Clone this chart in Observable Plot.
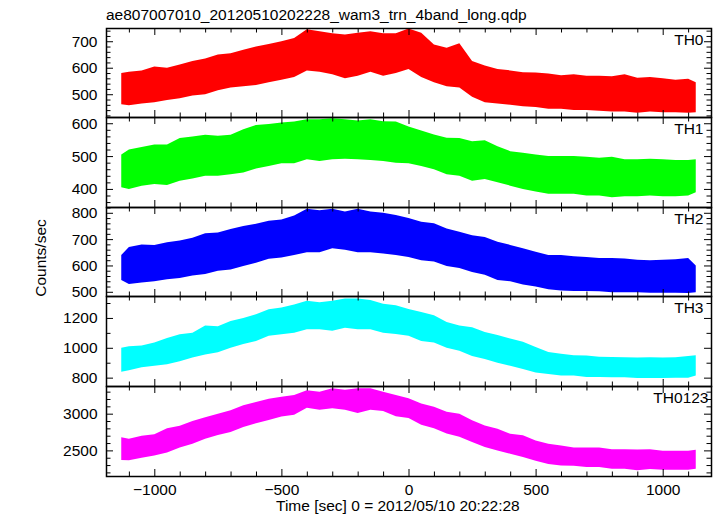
<!DOCTYPE html>
<html>
<head>
<meta charset="utf-8">
<script src="https://cdn.jsdelivr.net/npm/d3@7"></script>
<script src="https://cdn.jsdelivr.net/npm/@observablehq/plot@0.6"></script>
<style>
  body { margin: 0; background: #fff; }
  #chart { position: relative; width: 717px; height: 516px; font-family: "Liberation Sans", Arial, Helvetica, sans-serif; color: #000; overflow: hidden; }
  #chart svg { position: absolute; left: 0; overflow: visible; }
  .lbl { position: absolute; font-size: 15.5px; line-height: 15.5px; white-space: nowrap; }
</style>
</head>
<body>
<div id="chart"></div>
<script>
// ---- data (lower / upper envelope of each light curve) ----
const titleText = "ae807007010_20120510202228_wam3_trn_4band_long.qdp";
const xLabelText = "Time [sec] 0 = 2012/05/10 20:22:28";
const yLabelText = "Counts/sec";
const bandNames = ["TH0", "TH1", "TH2", "TH3", "TH0123"];

const time = [-1130,-1100,-1050,-1000,-950,-900,-850,-800,-750,-700,-650,-600,-550,-500,-450,-400,-350,-300,-250,-200,-150,-100,-50,0,50,100,150,200,250,300,350,400,450,500,550,600,650,700,750,800,850,900,950,1000,1050,1100,1130];

const th0Lo = [462,458,465,470,478,485,495,500,515,525,530,535,545,555,565,590,585,575,560,570,585,570,580,595,565,545,530,525,490,470,465,460,455,452,445,445,440,440,438,435,435,430,435,432,432,430,432];
const th0Hi = [580,585,590,605,600,612,625,635,650,655,668,680,690,700,712,745,738,730,725,732,738,730,730,748,732,688,675,692,625,608,595,590,583,582,578,572,575,570,570,568,575,562,565,560,555,558,545];

const th1Lo = [405,400,410,415,412,425,432,440,440,445,450,462,470,478,478,490,485,490,492,490,488,485,480,478,470,460,445,440,425,430,420,410,400,392,385,385,385,380,380,375,378,378,380,378,378,380,390];
const th1Hi = [505,520,528,535,535,555,560,565,562,565,582,595,598,602,605,612,612,615,612,608,612,606,605,590,578,566,556,555,545,548,530,515,510,505,500,500,500,498,495,498,490,490,492,490,488,488,490];

const th2Lo = [545,530,535,540,548,552,562,568,580,585,598,610,625,630,640,650,650,665,660,650,650,645,640,632,620,615,598,590,575,565,545,540,528,520,510,505,503,503,502,498,498,498,496,496,496,495,498];
const th2Hi = [640,670,680,678,688,695,705,722,725,738,750,758,770,775,790,815,810,815,805,815,805,800,792,780,766,760,740,728,715,708,690,678,665,652,640,640,635,632,628,628,626,622,620,622,624,628,600];

const th3Lo = [840,850,870,880,890,910,935,955,970,1000,1025,1045,1080,1090,1100,1125,1125,1115,1135,1125,1125,1100,1092,1080,1045,1035,1000,980,945,925,900,880,858,835,825,815,815,805,805,802,802,798,798,798,800,800,815];
const th3Hi = [1000,1010,1015,1035,1065,1090,1100,1150,1145,1180,1200,1225,1258,1270,1290,1315,1305,1316,1330,1330,1320,1295,1285,1260,1240,1218,1172,1150,1138,1105,1085,1062,1040,1005,972,960,950,948,940,938,936,935,936,935,936,945,950];

const th0123Lo = [2370,2365,2400,2430,2470,2540,2590,2660,2710,2750,2820,2870,2915,2960,2985,3080,3055,3075,3055,3010,3055,3035,2965,2940,2850,2800,2730,2685,2615,2545,2500,2455,2410,2360,2315,2295,2290,2275,2275,2250,2250,2230,2245,2235,2235,2235,2250];
const th0123Hi = [2680,2660,2700,2720,2800,2835,2900,2950,3000,3045,3115,3160,3205,3230,3255,3320,3300,3345,3325,3345,3345,3300,3255,3210,3140,3095,3025,3000,2910,2840,2795,2725,2705,2635,2590,2565,2540,2540,2538,2515,2515,2512,2515,2495,2495,2495,2510];

// tick labels
const xTicks = [-1000, -500, 0, 500, 1000];
const th0Ticks = [500, 600, 700];
const th1Ticks = [400, 500, 600];
const th2Ticks = [500, 600, 700, 800];
const th3Ticks = [800, 1000, 1200];
const th0123Ticks = [2500, 3000];

// ---- layout / style ----
const W = 717, ML = 106, MR = 6;
const frameW = W - ML - MR;
const xDomain = [-1190, 1190];
const xMinor = d3.range(-1100, 1101, 100).filter(v => !xTicks.includes(v));
const font = "'Liberation Sans', Arial, Helvetica, sans-serif";
const fmt = d3.format("d");

const panels = [
  {name: bandNames[0], lo: th0Lo, hi: th0Hi, ticks: th0Ticks, minorStep: 20, color: "#ff0000", domain: [414, 750], top: 28, bottom: 117, dx: -8},
  {name: bandNames[1], lo: th1Lo, hi: th1Hi, ticks: th1Ticks, minorStep: 20, color: "#00ff00", domain: [345, 619], top: 117, bottom: 207, dx: -8},
  {name: bandNames[2], lo: th2Lo, hi: th2Hi, ticks: th2Ticks, minorStep: 20, color: "#0000ff", domain: [484, 822], top: 207, bottom: 296, dx: -8},
  {name: bandNames[3], lo: th3Lo, hi: th3Hi, ticks: th3Ticks, minorStep: 100, color: "#00ffff", domain: [744, 1347], top: 296, bottom: 386, dx: -8},
  {name: bandNames[4], lo: th0123Lo, hi: th0123Hi, ticks: th0123Ticks, minorStep: 100, color: "#ff00ff", domain: [2151, 3377], top: 386, bottom: 476, dx: -3}
];

const chart = document.getElementById("chart");

panels.forEach((p, idx) => {
  const isBottom = idx === panels.length - 1;
  const H = p.bottom - p.top;
  const MB = isBottom ? 40 : 0;
  const data = time.map((t, i) => ({t, lo: p.lo[i], hi: p.hi[i]}));
  const [y0, y1] = p.domain;
  const yMinor = d3.range(Math.ceil(y0 / p.minorStep) * p.minorStep, y1, p.minorStep)
    .filter(v => !p.ticks.includes(v));
  const minorLen = 4.5, majorLen = 7;
  const marks = [
    Plot.areaY(data, {x: "t", y1: "lo", y2: "hi", fill: p.color}),
    Plot.tickY(yMinor, {y: d => d, insetRight: frameW - minorLen, stroke: "#000"}),
    Plot.tickY(yMinor, {y: d => d, insetLeft: frameW - minorLen, stroke: "#000"}),
    Plot.tickY(p.ticks, {y: d => d, insetRight: frameW - majorLen, stroke: "#000"}),
    Plot.tickY(p.ticks, {y: d => d, insetLeft: frameW - majorLen, stroke: "#000"}),
    Plot.tickX(xMinor, {x: d => d, insetBottom: H - minorLen, stroke: "#000"}),
    Plot.tickX(xMinor, {x: d => d, insetTop: H - minorLen, stroke: "#000"}),
    Plot.tickX(xTicks, {x: d => d, insetBottom: H - majorLen, stroke: "#000"}),
    Plot.tickX(xTicks, {x: d => d, insetTop: H - majorLen, stroke: "#000"}),
    Plot.axisY(p.ticks, {tickSize: 0, tickPadding: 9, fontSize: 15.5, label: null, fill: "#000", tickFormat: fmt}),
    Plot.text([p.name], {text: d => d, frameAnchor: "top-right", textAnchor: "end", lineAnchor: "top", dx: p.dx, dy: 5, fontSize: 15.5, fill: "#000"}),
    Plot.frame({stroke: "#000", strokeWidth: 1.5})
  ];
  if (isBottom) {
    marks.push(Plot.axisX(xTicks, {tickSize: 0, tickPadding: 7, fontSize: 15.5, label: null, fill: "#000", tickFormat: fmt}));
  }
  const svg = Plot.plot({
    width: W,
    height: H + MB,
    marginLeft: ML,
    marginRight: MR,
    marginTop: 0,
    marginBottom: MB,
    x: isBottom ? {domain: xDomain} : {domain: xDomain, axis: null},
    y: {domain: p.domain},
    style: {fontFamily: font, fontSize: "15.5px", color: "#000", background: "transparent", overflow: "visible"},
    marks
  });
  svg.style.top = p.top + "px";
  svg.style.position = "absolute";
  svg.style.left = "0px";
  svg.style.maxWidth = "none";
  chart.appendChild(svg);
});

// title and axis labels
const title = document.createElement("div");
title.className = "lbl";
title.textContent = titleText;
title.style.left = "106px";
title.style.top = "7px";
chart.appendChild(title);

const xl = document.createElement("div");
xl.className = "lbl";
xl.textContent = xLabelText;
xl.style.left = "276px";
xl.style.top = "498px";
chart.appendChild(xl);

const yl = document.createElement("div");
yl.className = "lbl";
yl.textContent = yLabelText;
yl.style.left = "41px";
yl.style.top = "258px";
yl.style.transform = "translate(-50%, -50%) rotate(-90deg)";
chart.appendChild(yl);
</script>
</body>
</html>
